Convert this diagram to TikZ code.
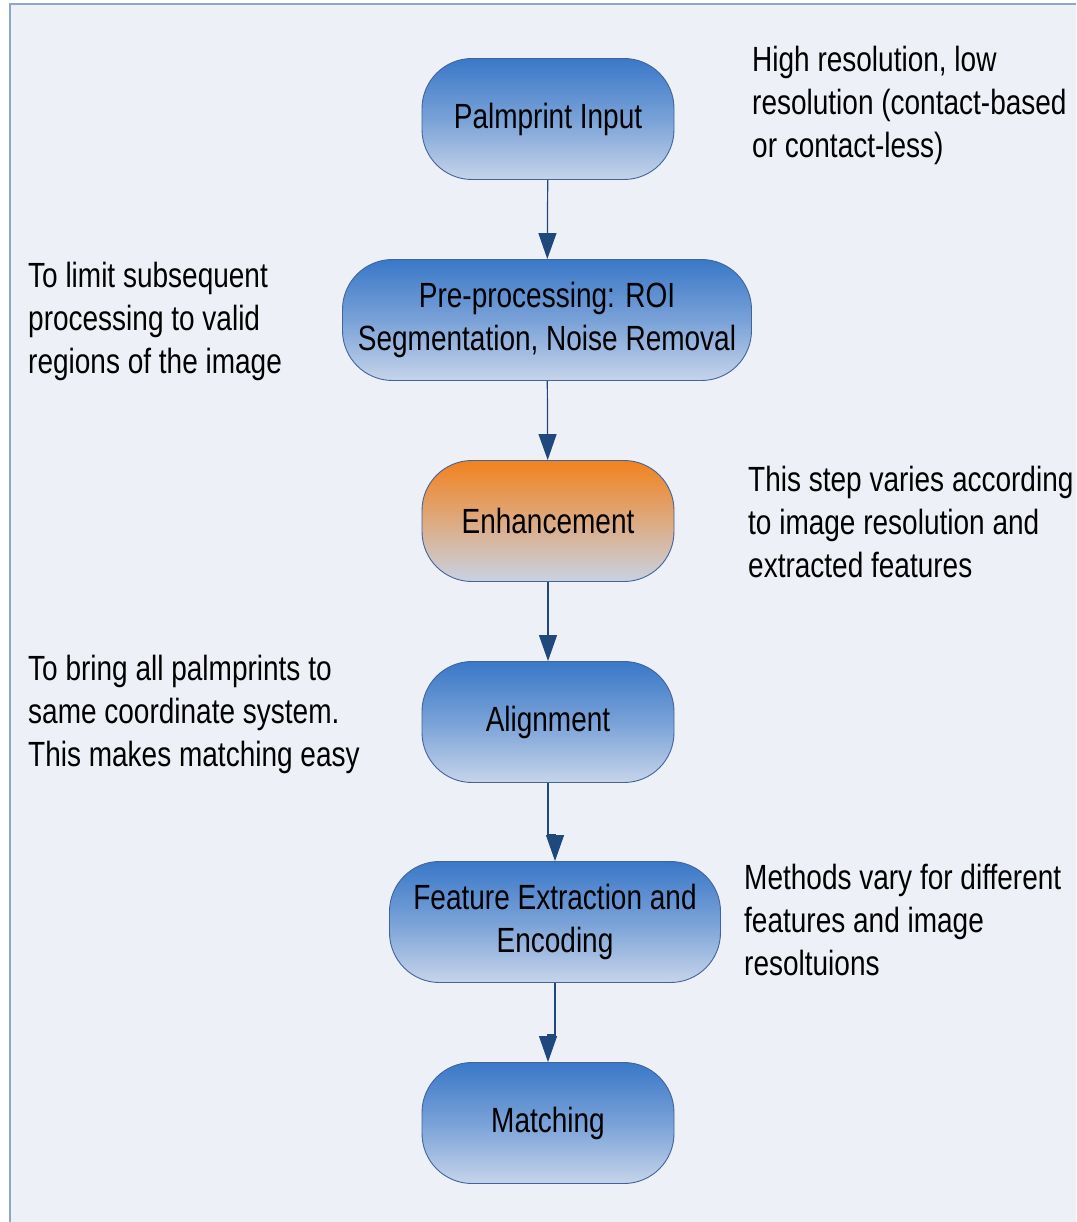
\documentclass[tikz,border=0pt]{standalone}
\usepackage{fontspec}
\setmainfont{Liberation Sans}[FakeStretch=0.8]
\usetikzlibrary{arrows.meta}
\definecolor{bgcol}{HTML}{EDF0F6}
\definecolor{framecol}{HTML}{8EA6CC}
\definecolor{edgecol}{HTML}{41649A}
\definecolor{flowcol}{HTML}{1F487C}
\definecolor{bluetop}{HTML}{3A78C8}
\definecolor{bluebot}{HTML}{C6D4EA}
\definecolor{orangetop}{HTML}{F2821E}
\definecolor{orangebot}{HTML}{C8D2E2}
\tikzset{
  stage/.style={draw=edgecol, line width=0.9pt, rounded corners=50pt, align=center,
    minimum height=121pt, minimum width=252pt, inner sep=0pt,
    top color=bluetop, bottom color=bluebot, middle color=bluetop!55!bluebot,
    font=\fontsize{35}{43}\selectfont},
  hot/.style={top color=orangetop, bottom color=orangebot, middle color=orangetop!50!orangebot},
  note/.style={anchor=west, align=left, inner sep=0pt, font=\fontsize{35}{43}\selectfont},
  flow/.style={draw=flowcol, line width=1.2pt, -{Triangle[width=18pt,length=26pt]}}
}
\begin{document}
\begin{tikzpicture}[x=1pt, y=-1pt]
		\useasboundingbox (0,0) rectangle (1076,1222);
		\fill [bgcol](10,4) rectangle (1076,1222);
		\draw [framecol, line width=2pt](10,1222)--(10,4)--(1076,4);
		\node (1)at (548, 119)[stage]  {Palmprint Input};
		\node (2)at (547, 320)[stage, minimum width=409pt]  {Pre-processing: ROI\\Segmentation, Noise Removal};
		\node (3)at (548, 521)[stage, hot]  {Enhancement};
		\node (4)at (548, 722)[stage]  {Alignment};
		\node (5)at (555, 922)[stage, minimum width=331pt]  {Feature Extraction and\\Encoding};
		\node (6)at (548, 1123)[stage]  {Matching};
		\node (n1)at (752, 105)[note]  {High resolution, low\\resolution (contact-based\\or contact-less)};
		\node (n2)at (28, 321)[note]  {To limit subsequent\\processing to valid\\regions of the image};
		\node (n3)at (748, 522)[note]  {This step varies according\\to image resolution and\\extracted features};
		\node (n4)at (28, 714)[note]  {To bring all palmprints to\\same coordinate system.\\This makes matching easy};
		\node (n5)at (744, 920)[note]  {Methods vary for different\\features and image\\resoltuions};
		\draw [flow](1)--(2);
		\draw [flow](2)--(3);
		\draw [flow](3)--(4);
		\draw [flow](4.south)--++(0,52)-|(5);
		\draw [flow](5.south)--++(0,52)-|(6);
	\end{tikzpicture}
\end{document}
